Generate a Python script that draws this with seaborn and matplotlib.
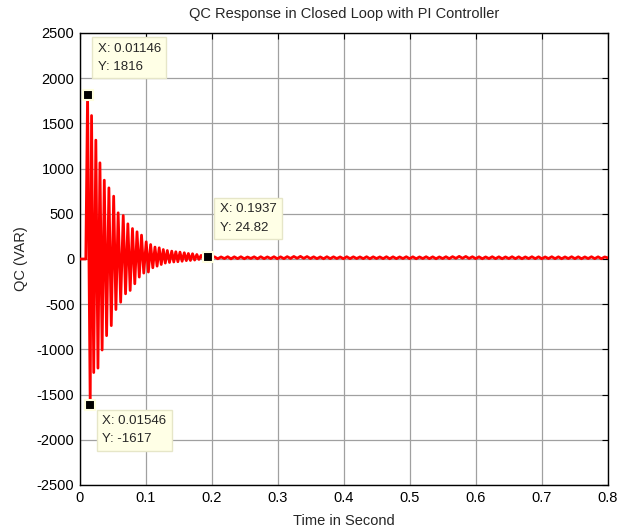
import numpy as np
import pandas as pd
import matplotlib
matplotlib.use("Agg")
import matplotlib.pyplot as plt
import seaborn as sns

# ---- data ----
start_time = [0.0, 0.0088]
start_value = [0.0, 0.0]

peak_time = [0.01146, 0.0175, 0.0240, 0.0302, 0.0368, 0.0438, 0.0510, 0.0578, 0.0655,
             0.0725, 0.0795, 0.0864, 0.0932, 0.1003, 0.1070, 0.1136, 0.1200, 0.1262,
             0.1323, 0.1390, 0.1452, 0.1515, 0.1580, 0.1642, 0.1705, 0.1770, 0.1835]
peak_value = [1816, 1587, 1315, 1064, 872, 787, 695, 511, 481, 389, 337, 301, 264, 190,
              160, 132, 124, 105, 94, 87, 80, 76, 69, 61, 58, 50, 40]

trough_time = [0.01546, 0.0208, 0.0272, 0.0335, 0.0403, 0.0474, 0.0544, 0.0616, 0.0690,
               0.0760, 0.0830, 0.0898, 0.0966, 0.1036, 0.1103, 0.1168, 0.1231, 0.1292,
               0.1356, 0.1421, 0.1483, 0.1547, 0.1611, 0.1673, 0.1737, 0.1802, 0.1868]
trough_value = [-1617, -1256, -1207, -1007, -848, -737, -559, -478, -385, -348, -274,
                -200, -156, -144, -97, -79, -61, -45, -38, -33, -30, -25, -18, -16,
                -12, -5, 0]

tail_start, tail_end = 0.1937, 0.8
tail_value = [24.82, 2, 24, 3, 23, 5, 25, 2, 24, 4, 25, 3, 22, 6, 24, 3, 25, 4, 23, 5,
              25, 3, 24, 4, 26, 6, 28, 8, 29, 7, 27, 5, 24, 4, 23, 3, 25, 4, 24, 5,
              23, 3, 25, 4, 24, 5, 23, 4, 25, 3, 24, 5, 23, 4, 25, 3, 24, 4, 23, 5,
              25, 4, 24, 3, 23, 5, 25, 4, 24, 3, 23, 5, 25, 4, 26, 7, 29, 8, 28, 6,
              25, 4, 24, 3, 23, 5, 25, 4, 24, 3, 23, 5, 25, 4, 24, 3, 23, 5, 25, 4,
              24, 3, 23, 5, 25, 4, 24, 3, 23, 5, 25, 4, 24, 3, 23, 5, 25, 4, 24, 3, 23, 12]

datatips = [
    (0.01146, 1816, "X: 0.01146\nY: 1816"),
    (0.1937, 24.82, "X: 0.1937\nY: 24.82"),
    (0.01546, -1617, "X: 0.01546\nY: -1617"),
]

x_ticks = [0, 0.1, 0.2, 0.3, 0.4, 0.5, 0.6, 0.7, 0.8]
x_tick_labels = ["0", "0.1", "0.2", "0.3", "0.4", "0.5", "0.6", "0.7", "0.8"]
y_ticks = [-2500, -2000, -1500, -1000, -500, 0, 500, 1000, 1500, 2000, 2500]

# ---- build the series ----
t_all, v_all = list(start_time), list(start_value)
for pt, pv, tt, tv in zip(peak_time, peak_value, trough_time, trough_value):
    t_all += [pt, tt]
    v_all += [pv, tv]
tail_time = np.linspace(tail_start, tail_end, len(tail_value))
t_all += list(tail_time)
v_all += list(tail_value)
df = pd.DataFrame({"time": t_all, "qc": v_all})

# ---- plot ----
sns.set_style("white")
plt.rcParams["font.family"] = ["Liberation Sans", "DejaVu Sans"]
plt.rcParams["axes.unicode_minus"] = False

fig = plt.figure(figsize=(6.19, 5.31), dpi=100)
ax = fig.add_axes([80 / 619, 1 - 485 / 531, (608 - 80) / 619, (485 - 33) / 531])

sns.lineplot(data=df, x="time", y="qc", sort=False, estimator=None,
             color="#ff0000", linewidth=2.0, ax=ax, zorder=3)

ax.set_xlim(0, 0.8)
ax.set_ylim(-2500, 2500)
ax.set_xticks(x_ticks)
ax.set_xticklabels(x_tick_labels)
ax.set_yticks(y_ticks)
ax.grid(True, color="#a0a0a0", linewidth=0.9, zorder=0)
ax.tick_params(direction="in", length=4, width=0.8, colors="black",
               labelsize=10.5, top=True, right=True, pad=4)
for s in ax.spines.values():
    s.set_color("black")
    s.set_linewidth(1.0)

ax.set_title("QC Response in Closed Loop with PI Controller", fontsize=10.5, pad=11)
ax.set_xlabel("Time in Second", fontsize=10.5, labelpad=7)
ax.set_ylabel("QC (VAR)", fontsize=10.5, labelpad=6)

# datatips (offsets in pixels from the marker to the text corner)
offsets = [(10, 22), (12, 23), (12, -10)]
aligns = [("left", "bottom"), ("left", "bottom"), ("left", "top")]
for (x, y, txt), off, (ha, va) in zip(datatips, offsets, aligns):
    ax.plot([x], [y], marker="s", markersize=7, markerfacecolor="black",
            markeredgecolor="#ffffe0", markeredgewidth=1.5, zorder=5, linestyle="none")
    ax.annotate(txt, xy=(x, y), xytext=off, textcoords="offset pixels",
                ha=ha, va=va, fontsize=9.5, linespacing=1.7, zorder=6,
                fontfamily="Liberation Sans",
                bbox=dict(boxstyle="square,pad=0.42", facecolor="#ffffe6",
                          edgecolor="#e6e6c8", linewidth=1.0))

fig.savefig("out.png", dpi=100)
